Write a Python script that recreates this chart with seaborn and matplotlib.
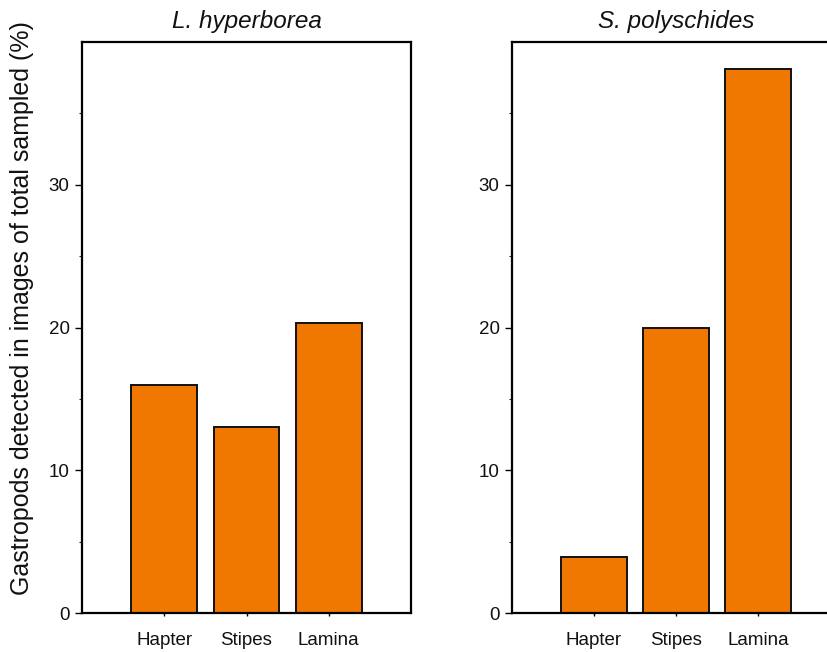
import matplotlib
matplotlib.use("Agg")
import matplotlib.pyplot as plt
import seaborn as sns
import pandas as pd

parts = ["Hapter", "Stipes", "Lamina"]
l_hyperborea = [16.0, 13.0, 20.35]
s_polyschides = [3.9, 20.0, 38.1]
titles = ["L. hyperborea", "S. polyschides"]
ylabel = "Gastropods detected in images of total sampled (%)"
major_ticks = [0, 10, 20, 30]
minor_ticks = [5, 15, 25, 35]

sns.set_theme(style="ticks")
plt.rcParams['font.family'] = ['Liberation Sans', 'DejaVu Sans']

W, H = 827, 652
fig = plt.figure(figsize=(W / 100, H / 100), dpi=100)
ax1 = fig.add_axes([82 / W, (H - 613) / H, 329 / W, 571 / H])
ax2 = fig.add_axes([512 / W, (H - 613) / H, 328 / W, 571 / H])

orange = "#F07800"
for ax, vals, title in zip([ax1, ax2], [l_hyperborea, s_polyschides], titles):
    df = pd.DataFrame({"part": parts, "value": vals})
    sns.barplot(data=df, x="part", y="value", color=orange, saturation=1,
                edgecolor="#111111", linewidth=1.4, width=0.8, ax=ax)
    ax.set_xlim(-1, 3)
    ax.set_ylim(0, 40)
    ax.set_yticks(major_ticks)
    ax.set_yticks(minor_ticks, minor=True)
    ax.set_xlabel("")
    ax.set_ylabel("")
    ax.set_title(title, fontsize=17.5, fontstyle="italic", pad=10, color="#111111")
    for s in ax.spines.values():
        s.set_visible(True)
        s.set_linewidth(1.6)
        s.set_color("black")
    ax.tick_params(axis="y", which="major", direction="out", length=5, width=1,
                   pad=4, labelsize=13.5, colors="black")
    ax.tick_params(axis="y", which="minor", direction="out", length=2.5, width=0.8)
    ax.tick_params(axis="x", which="major", direction="out", length=2.5, width=1,
                   pad=11, labelsize=13.5, colors="black")
    ax.tick_params(axis="x", which="minor", bottom=False)
    for lab in ax.get_xticklabels() + ax.get_yticklabels():
        lab.set_color("#111111")

fig.text(22 / W, 1 - 308 / H, ylabel, rotation=90, ha="center", va="center",
         fontsize=18, color="#111111")

fig.savefig("out.png", dpi=100)
